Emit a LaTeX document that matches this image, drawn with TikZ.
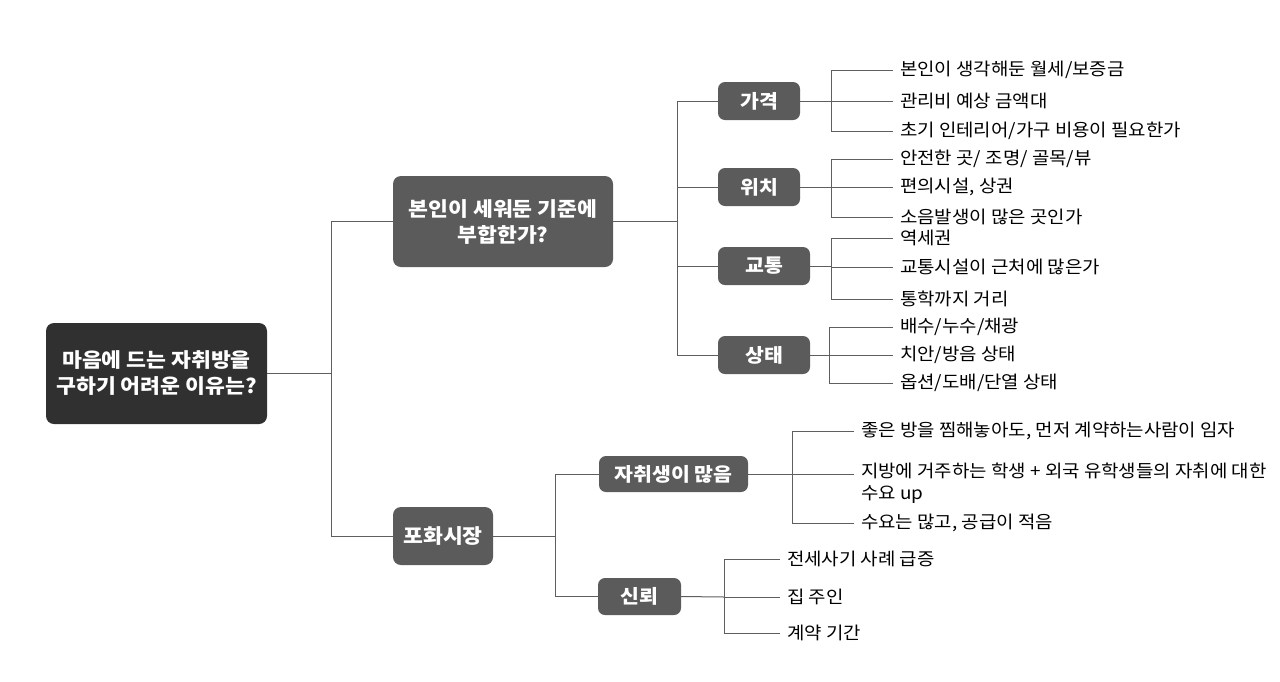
\documentclass[tikz,border=0pt]{standalone}
\usepackage{fontspec}
\setmainfont{Noto Sans CJK KR}[FakeStretch=1.08]
\begin{document}
\begin{tikzpicture}[x=1pt,y=-1pt,
  rootbox/.style={fill=rootgray,rounded corners=8pt,text=white,font=\fontsize{20}{26}\selectfont\bfseries,align=center,inner sep=0pt},
  midbox/.style={fill=boxgray,rounded corners=8pt,text=white,font=\fontsize{20}{26}\selectfont\bfseries,align=center,inner sep=0pt},
  subbox/.style={fill=boxgray,rounded corners=7pt,text=white,font=\fontsize{19}{24}\selectfont\bfseries,align=center,inner sep=0pt},
  leaf/.style={anchor=west,font=\fontsize{17.5}{22}\selectfont,align=left,inner xsep=7pt,inner ysep=0pt,text=black},
  conn/.style={draw=linegray,line width=1pt}
]
\definecolor{rootgray}{HTML}{303030}
\definecolor{boxgray}{HTML}{5B5B5B}
\definecolor{linegray}{HTML}{5E5E5E}
\useasboundingbox[fill=white] (0,0) rectangle (1280,681);

% level 0
\node[rootbox,minimum width=221pt,minimum height=101pt] (root) at (156.5,373.5) {마음에 드는 자취방을\\구하기 어려운 이유는?};

% level 1
\node[midbox,minimum width=220pt,minimum height=91pt] (A) at (503,221.5) {본인이 세워둔 기준에\\부합한가?};
\node[midbox,minimum width=100pt,minimum height=58pt] (B) at (443,536) {포화시장};

% level 2
\node[subbox,minimum width=82pt,minimum height=38pt] (price) at (759,101) {가격};
\node[subbox,minimum width=82pt,minimum height=38pt] (loc) at (759,187) {위치};
\node[subbox,minimum width=92pt,minimum height=38pt] (traffic) at (764,266) {교통};
\node[subbox,minimum width=92pt,minimum height=38pt] (state) at (764,355) {상태};
\node[subbox,minimum width=149pt,minimum height=36pt] (many) at (673.5,474) {자취생이 많음};
\node[subbox,minimum width=83pt,minimum height=37pt] (trust) at (639.5,596.5) {신뢰};

% leaves
\node[leaf] (p1) at (893,70) {본인이 생각해둔 월세/보증금};
\node[leaf] (p2) at (893,101) {관리비 예상 금액대};
\node[leaf] (p3) at (893,131) {초기 인테리어/가구 비용이 필요한가};
\node[leaf] (l1) at (893,159) {안전한 곳/ 조명/ 골목/뷰};
\node[leaf] (l2) at (893,187) {편의시설, 상권};
\node[leaf] (l3) at (893,217) {소음발생이 많은 곳인가};
\node[leaf] (t1) at (893,238) {역세권};
\node[leaf] (t2) at (893,267) {교통시설이 근처에 많은가};
\node[leaf] (t3) at (893,299) {통학까지 거리};
\node[leaf] (s1) at (893,327) {배수/누수/채광};
\node[leaf] (s2) at (893,355) {치안/방음 상태};
\node[leaf] (s3) at (893,383) {옵션/도배/단열 상태};
\node[leaf] (m1) at (854,431) {좋은 방을 찜해놓아도, 먼저 계약하는사람이 임자};
\node[leaf,anchor=north west] (m2) at (854,463) {지방에 거주하는 학생 + 외국 유학생들의 자취에 대한\\수요 up};
\node[leaf] (m3) at (854,523) {수요는 많고, 공급이 적음};
\node[leaf] (r1) at (780,559) {전세사기 사례 급증};
\node[leaf] (r2) at (780,597) {집 주인};
\node[leaf] (r3) at (780,633) {계약 기간};

% hubs
\coordinate (h0) at (331,373.5);
\coordinate (hA) at (677,221.5);
\coordinate (hB) at (555,536);
\coordinate (hp) at (831,101);
\coordinate (hl) at (831,187);
\coordinate (ht) at (831,266);
\coordinate (hs) at (829,355);
\coordinate (hm) at (792,474);
\coordinate (hr) at (724,597);

% connectors
\draw[conn] (root.east) -- (h0);
\draw[conn] (h0) |- (A.west);
\draw[conn] (h0) |- (B.west);

\draw[conn] (A.east) -- (hA);
\foreach \n in {price,loc,traffic,state} \draw[conn] (hA) |- (\n.west);

\draw[conn] (B.east) -- (hB);
\foreach \n in {many,trust} \draw[conn] (hB) |- (\n.west);

\draw[conn] (price.east) -- (hp);
\foreach \n in {p1,p2,p3} \draw[conn] (hp) |- (\n.west);
\draw[conn] (loc.east) -- (hl);
\foreach \n in {l1,l2,l3} \draw[conn] (hl) |- (\n.west);
\draw[conn] (traffic.east) -- (ht);
\foreach \n in {t1,t2,t3} \draw[conn] (ht) |- (\n.west);
\draw[conn] (state.east) -- (hs);
\foreach \n in {s1,s2,s3} \draw[conn] (hs) |- (\n.west);

\draw[conn] (many.east) -- (hm);
\draw[conn] (hm) |- (m1.west);
\draw[conn] (hm) -- (hm -| m2.west);
\draw[conn] (hm) |- (m3.west);
\draw[conn] (trust.east) -- (hr);
\foreach \n in {r1,r2,r3} \draw[conn] (hr) |- (\n.west);
\end{tikzpicture}
\end{document}
